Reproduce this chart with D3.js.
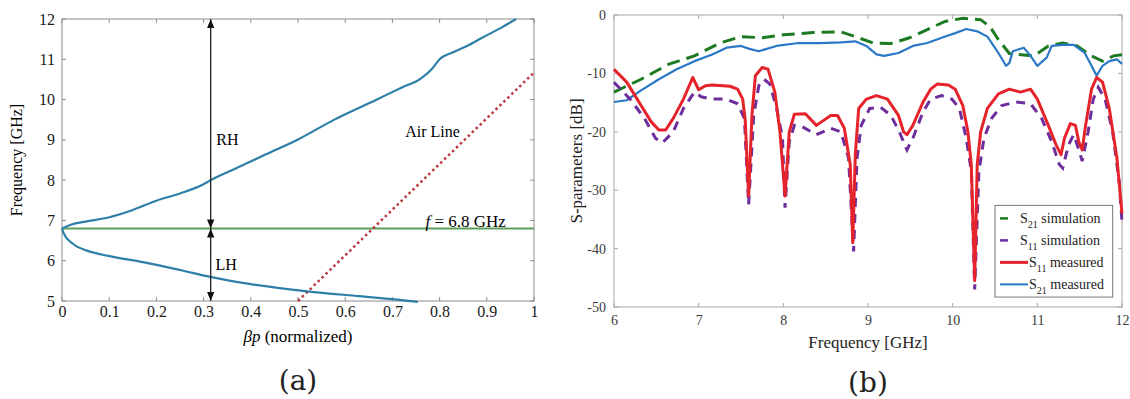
<!DOCTYPE html>
<html><head><meta charset="utf-8">
<script src="https://cdn.jsdelivr.net/npm/d3@7"></script>
<style>body{margin:0;background:#fff}svg{display:block}</style>
</head><body>
<svg id="c" width="1130" height="399"></svg>
<script>
// ---------- Panel (a) data ----------
const xTicksA = [0,0.1,0.2,0.3,0.4,0.5,0.6,0.7,0.8,0.9,1];
const xTickLabelsA = ["0","0.1","0.2","0.3","0.4","0.5","0.6","0.7","0.8","0.9","1"];
const yTicksA = [5,6,7,8,9,10,11,12];
const yTickLabelsA = ["5","6","7","8","9","10","11","12"];
const rhBp = [0,0.02,0.05,0.1,0.15,0.2,0.25,0.3,0.315,0.37,0.432,0.5,0.575,0.665,0.72,0.76,0.785,0.8,0.83,0.86,0.891,0.93,0.962];
const rhF  = [6.8,6.9,6.97,7.08,7.26,7.49,7.67,7.9,8.0,8.3,8.64,9.01,9.49,9.99,10.3,10.52,10.78,11.0,11.18,11.34,11.54,11.78,12.0];
const lhBp = [0,0.004,0.023,0.053,0.098,0.174,0.25,0.314,0.4,0.52,0.63,0.705,0.754];
const lhF  = [6.8,6.67,6.42,6.25,6.12,5.96,5.77,5.6,5.42,5.24,5.12,5.04,4.98];
const airBp = [0.5,1.0];
const airF  = [5.0,10.67];
const refBp = [0,1];
const refF  = [6.8,6.8];
const arrowBp = 0.315;

// ---------- Panel (b) data ----------
const xTicksB = [6,7,8,9,10,11,12];
const xTickLabelsB = ["6","7","8","9","10","11","12"];
const yTicksB = [0,-10,-20,-30,-40,-50];
const yTickLabelsB = ["0","-10","-20","-30","-40","-50"];
const s21SimF = [6.0,6.32,6.65,6.95,7.25,7.5,7.75,8.0,8.35,8.68,8.85,9.06,9.27,9.49,9.7,9.91,10.12,10.33,10.44,10.54,10.67,10.96,11.13,11.3,11.47,11.64,11.77,11.9,12.0];
const s21SimV = [-13.2,-11,-8.4,-7.0,-4.8,-3.7,-3.9,-3.4,-3.0,-2.9,-3.7,-4.8,-4.9,-3.9,-2.5,-1.1,-0.56,-0.8,-2.0,-4.2,-6.6,-7.0,-5.3,-4.8,-5.3,-7.0,-7.9,-7.0,-6.8];
const s21MeasF = [6.0,6.15,6.32,6.53,6.74,6.95,7.16,7.33,7.5,7.6,7.71,7.92,8.18,8.43,8.68,8.85,8.98,9.1,9.19,9.36,9.53,9.7,9.87,10.03,10.16,10.29,10.41,10.54,10.63,10.67,10.71,10.84,10.92,11.0,11.11,11.17,11.3,11.43,11.56,11.64,11.7,11.77,11.85,11.94,12.0];
const s21MeasV = [-14.9,-14.6,-12.9,-11,-9.3,-7.9,-6.75,-5.6,-5.3,-5.8,-6.2,-5.3,-4.8,-4.8,-4.7,-4.5,-5.3,-6.75,-7.0,-6.5,-5.3,-4.8,-3.9,-3.1,-2.4,-2.8,-3.7,-6.5,-8.7,-8.2,-6.2,-5.6,-7.0,-8.7,-7.3,-5.3,-5.1,-5.1,-6.5,-8.7,-10.4,-8.7,-7.9,-7.6,-8.4];
const s11MeasF = [6.0,6.15,6.32,6.44,6.53,6.61,6.7,6.82,6.93,7.0,7.08,7.16,7.37,7.46,7.52,7.55,7.59,7.63,7.67,7.75,7.82,7.9,7.96,8.02,8.07,8.13,8.26,8.39,8.56,8.64,8.72,8.79,8.82,8.85,8.89,8.98,9.1,9.23,9.36,9.42,9.46,9.53,9.65,9.74,9.82,9.95,10.03,10.12,10.18,10.22,10.26,10.29,10.33,10.41,10.54,10.67,10.8,10.92,11.0,11.13,11.22,11.28,11.32,11.39,11.45,11.49,11.53,11.57,11.64,11.7,11.77,11.85,11.94,12.0];
const s11MeasV = [-9.3,-11.5,-15.5,-18.3,-19.7,-19.7,-17.7,-14.4,-10.7,-12.8,-12.1,-12,-12.2,-12.7,-14.4,-18,-31,-17,-10.4,-9.0,-9.3,-13.2,-20,-31,-20,-17,-16.9,-18.9,-17.2,-17.2,-19.4,-25.6,-39,-23.9,-16,-14.4,-13.8,-14.4,-17.2,-20,-20.5,-18.9,-14.9,-12.7,-11.8,-12,-12.7,-15.5,-20,-25.6,-45.5,-25.6,-20,-16,-13.5,-12.7,-13.2,-12.7,-14.4,-18.9,-22.2,-23.9,-21.1,-18.6,-18.9,-21.7,-23.1,-18.9,-12.7,-10.7,-11.5,-16,-24.5,-34];
const s11SimF = [6.0,6.19,6.36,6.49,6.57,6.7,6.82,6.95,7.03,7.16,7.33,7.46,7.54,7.59,7.65,7.71,7.77,7.84,7.92,7.99,8.02,8.07,8.13,8.22,8.39,8.56,8.68,8.77,8.83,8.87,8.92,9.02,9.15,9.27,9.37,9.46,9.53,9.65,9.74,9.87,9.99,10.08,10.16,10.22,10.26,10.31,10.37,10.46,10.58,10.75,10.92,11.05,11.17,11.26,11.3,11.37,11.43,11.47,11.53,11.6,11.66,11.72,11.8,11.89,11.97,12.0];
const s11SimV = [-11.5,-14.4,-17.7,-21.1,-21.9,-20,-16,-13.2,-14,-14.4,-14.4,-15.2,-17.7,-32.5,-17.2,-12.1,-11,-11.8,-16,-21,-33,-21.7,-18.9,-19.1,-20.5,-19.4,-20,-24.5,-40.5,-24.5,-18.9,-16,-15.8,-17.2,-20,-23.1,-21.1,-16.6,-14.4,-13.8,-14.4,-16,-21.1,-26.7,-47,-26.7,-21.1,-17.7,-15.5,-14.9,-15.2,-17.7,-21.7,-25.6,-26.2,-22.2,-20.5,-22.2,-25,-20,-14.4,-12.4,-14.4,-20,-29,-35.5];
const legendNames = ["simulation","simulation","measured","measured"];
const legendSubs = ["21","11","11","21"];

const svg = d3.select("#c");
const serif = "'Liberation Serif','DejaVu Serif',serif";

// ================= Panel (a) =================
const xA = d3.scaleLinear().domain([0,1]).range([62,534]);
const yA = d3.scaleLinear().domain([5,12]).range([301,19]);
const gA = svg.append("g");
const frameA = "#8c8c8c";
gA.append("rect").attr("x",xA(0)).attr("y",yA(12)).attr("width",xA(1)-xA(0)).attr("height",yA(5)-yA(12))
  .attr("fill","none").attr("stroke",frameA).attr("stroke-width",1);
xTicksA.forEach(t=>{
  gA.append("line").attr("x1",xA(t)).attr("x2",xA(t)).attr("y1",yA(5)).attr("y2",yA(5)-4).attr("stroke",frameA);
  gA.append("line").attr("x1",xA(t)).attr("x2",xA(t)).attr("y1",yA(12)).attr("y2",yA(12)+4).attr("stroke",frameA);
});
yTicksA.forEach(t=>{
  gA.append("line").attr("x1",xA(0)).attr("x2",xA(0)+4).attr("y1",yA(t)).attr("y2",yA(t)).attr("stroke",frameA);
  gA.append("line").attr("x1",xA(1)).attr("x2",xA(1)-4).attr("y1",yA(t)).attr("y2",yA(t)).attr("stroke",frameA);
});
const xAxA = d3.axisBottom(xA).tickValues(xTicksA).tickFormat((d,i)=>xTickLabelsA[i]).tickSize(0).tickPadding(5);
gA.append("g").attr("transform",`translate(0,${yA(5)})`).call(xAxA)
  .call(g=>g.select(".domain").remove())
  .call(g=>g.attr("font-family",null).attr("font-size",null))
  .selectAll("text").style("font-family",serif).style("font-size","16px").attr("fill","#1a1a1a");
const yAxA = d3.axisLeft(yA).tickValues(yTicksA).tickFormat((d,i)=>yTickLabelsA[i]).tickSize(0).tickPadding(7);
gA.append("g").attr("transform",`translate(${xA(0)},0)`).call(yAxA)
  .call(g=>g.select(".domain").remove())
  .call(g=>g.attr("font-family",null).attr("font-size",null))
  .selectAll("text").style("font-family",serif).style("font-size","16px").attr("fill","#1a1a1a");

const lineA = d3.line().x(d=>xA(d[0])).y(d=>yA(d[1]));
gA.append("path").datum(refBp.map((b,i)=>[b,refF[i]])).attr("d",lineA)
  .attr("fill","none").attr("stroke","#5a9e5a").attr("stroke-width",2);
gA.append("path").datum(airBp.map((b,i)=>[b,airF[i]])).attr("d",lineA)
  .attr("fill","none").attr("stroke","#b8383f").attr("stroke-width",2.5).attr("stroke-dasharray","2.5,3");
const curveA = d3.line().x(d=>xA(d[0])).y(d=>yA(d[1])).curve(d3.curveMonotoneX);
gA.append("path").datum(rhBp.map((b,i)=>[b,rhF[i]])).attr("d",curveA)
  .attr("fill","none").attr("stroke","#2e7fa8").attr("stroke-width",2.2);
gA.append("path").datum(lhBp.map((b,i)=>[b,lhF[i]])).attr("d",curveA)
  .attr("fill","none").attr("stroke","#2e7fa8").attr("stroke-width",2.2);

const defs = svg.append("defs");
defs.append("marker").attr("id","ah").attr("viewBox","0 0 10 10").attr("refX",10).attr("refY",5)
  .attr("markerWidth",7).attr("markerHeight",7).attr("orient","auto-start-reverse")
  .append("path").attr("d","M0,1 L10,5 L0,9 Z").attr("fill","#111");
[[12,6.8],[6.8,5]].forEach(([a,b])=>{
  gA.append("line").attr("x1",xA(arrowBp)).attr("x2",xA(arrowBp)).attr("y1",yA(a)).attr("y2",yA(b))
    .attr("stroke","#222").attr("stroke-width",1.3)
    .attr("marker-start","url(#ah)").attr("marker-end","url(#ah)");
});
gA.append("text").attr("x",xA(0.327)).attr("y",yA(9)+5).attr("font-family",serif).attr("font-size",16).text("RH");
gA.append("text").attr("x",xA(0.325)).attr("y",yA(5.9)+5).attr("font-family",serif).attr("font-size",16).text("LH");
gA.append("text").attr("x",xA(0.727)).attr("y",yA(9.2)+5).attr("font-family",serif).attr("font-size",16).text("Air Line");
const ft = gA.append("text").attr("x",xA(0.77)).attr("y",yA(6.95)+5).attr("font-family",serif).attr("font-size",17);
ft.append("tspan").attr("font-style","italic").text("f");
ft.append("tspan").text(" = 6.8 GHz");
gA.append("text").attr("transform",`translate(22,${(yA(5)+yA(12))/2}) rotate(-90)`).attr("text-anchor","middle")
  .attr("font-family",serif).attr("font-size",16).text("Frequency [GHz]");
const xtA = gA.append("text").attr("x",(xA(0)+xA(1))/2).attr("y",342).attr("text-anchor","middle")
  .attr("font-family",serif).attr("font-size",17);
xtA.append("tspan").attr("font-style","italic").text("βp");
xtA.append("tspan").text(" (normalized)");
gA.append("text").attr("x",(xA(0)+xA(1))/2).attr("y",390).attr("text-anchor","middle")
  .attr("font-family","'DejaVu Serif',serif").attr("font-size",28).attr("fill","#222").text("(a)");

// ================= Panel (b) =================
const xB = d3.scaleLinear().domain([6,12]).range([614,1122]);
const yB = d3.scaleLinear().domain([-50,0]).range([307,15]);
const gB = svg.append("g");
const frameB = "#a8a8a8";
gB.append("rect").attr("x",xB(6)).attr("y",yB(0)).attr("width",xB(12)-xB(6)).attr("height",yB(-50)-yB(0))
  .attr("fill","none").attr("stroke",frameB).attr("stroke-width",1);
xTicksB.forEach(t=>{
  gB.append("line").attr("x1",xB(t)).attr("x2",xB(t)).attr("y1",yB(-50)).attr("y2",yB(-50)-4).attr("stroke",frameB);
  gB.append("line").attr("x1",xB(t)).attr("x2",xB(t)).attr("y1",yB(0)).attr("y2",yB(0)+4).attr("stroke",frameB);
});
yTicksB.forEach(t=>{
  gB.append("line").attr("x1",xB(6)).attr("x2",xB(6)+4).attr("y1",yB(t)).attr("y2",yB(t)).attr("stroke",frameB);
  gB.append("line").attr("x1",xB(12)).attr("x2",xB(12)-4).attr("y1",yB(t)).attr("y2",yB(t)).attr("stroke",frameB);
});
gB.append("g").attr("transform",`translate(0,${yB(-50)})`)
  .call(d3.axisBottom(xB).tickValues(xTicksB).tickFormat((d,i)=>xTickLabelsB[i]).tickSize(0).tickPadding(8))
  .call(g=>g.select(".domain").remove())
  .call(g=>g.attr("font-family",null).attr("font-size",null))
  .selectAll("text").style("font-family",serif).style("font-size","14px").attr("fill","#3a3a3a");
gB.append("g").attr("transform",`translate(${xB(6)},0)`)
  .call(d3.axisLeft(yB).tickValues(yTicksB).tickFormat((d,i)=>yTickLabelsB[i]).tickSize(0).tickPadding(8))
  .call(g=>g.select(".domain").remove())
  .call(g=>g.attr("font-family",null).attr("font-size",null))
  .selectAll("text").style("font-family",serif).style("font-size","14px").attr("fill","#3a3a3a");

const lineB = d3.line().x(d=>xB(d[0])).y(d=>yB(d[1]));
const zip = (a,b)=>a.map((v,i)=>[v,b[i]]);
gB.append("path").datum(zip(s21SimF,s21SimV)).attr("d",lineB).attr("fill","none")
  .attr("stroke","#1d7a22").attr("stroke-width",3).attr("stroke-dasharray","13,7");
gB.append("path").datum(zip(s21MeasF,s21MeasV)).attr("d",lineB).attr("fill","none")
  .attr("stroke","#2a78c6").attr("stroke-width",2.2).attr("stroke-linejoin","round");
gB.append("path").datum(zip(s11SimF,s11SimV)).attr("d",lineB).attr("fill","none")
  .attr("stroke","#6e2d9c").attr("stroke-width",3).attr("stroke-dasharray","9,7");
gB.append("path").datum(zip(s11MeasF,s11MeasV)).attr("d",lineB).attr("fill","none")
  .attr("stroke","#e5232a").attr("stroke-width",3).attr("stroke-linejoin","round");

const lg = gB.append("g");
lg.append("rect").attr("x",xB(10.5)).attr("y",yB(-32.6)).attr("width",xB(11.89)-xB(10.5)).attr("height",yB(-48.3)-yB(-32.6))
  .attr("fill","#fff").attr("stroke","#777").attr("stroke-width",1);
const legColors = ["#1d7a22","#6e2d9c","#e5232a","#2a78c6"];
const legShort = [true,true,false,false];
const legW = [2.5,2.5,3,2];
legendNames.forEach((n,i)=>{
  const y = yB(-32.6) + 13 + i*22;
  const x0 = xB(10.5) + 5;
  lg.append("line").attr("x1",x0).attr("x2",x0 + (legShort[i]?8:28)).attr("y1",y).attr("y2",y)
    .attr("stroke",legColors[i]).attr("stroke-width",legW[i]);
  const t = lg.append("text").attr("x",x0 + (legShort[i]?20:29)).attr("y",y+5).attr("font-family",serif).attr("font-size",14).attr("fill","#222");
  t.append("tspan").text("S");
  t.append("tspan").attr("dy",5).attr("font-size",10).text(legendSubs[i]);
  t.append("tspan").attr("dy",-5).text(" "+n);
});

gB.append("text").attr("transform",`translate(582,${(yB(0)+yB(-50))/2}) rotate(-90)`).attr("text-anchor","middle")
  .attr("font-family",serif).attr("font-size",17).attr("fill","#222").text("S-parameters [dB]");
gB.append("text").attr("x",(xB(6)+xB(12))/2).attr("y",348).attr("text-anchor","middle")
  .attr("font-family",serif).attr("font-size",17).attr("fill","#222").text("Frequency [GHz]");
gB.append("text").attr("x",(xB(6)+xB(12))/2).attr("y",392).attr("text-anchor","middle")
  .attr("font-family","'DejaVu Serif',serif").attr("font-size",28).attr("fill","#222").text("(b)");
</script>
</body></html>
